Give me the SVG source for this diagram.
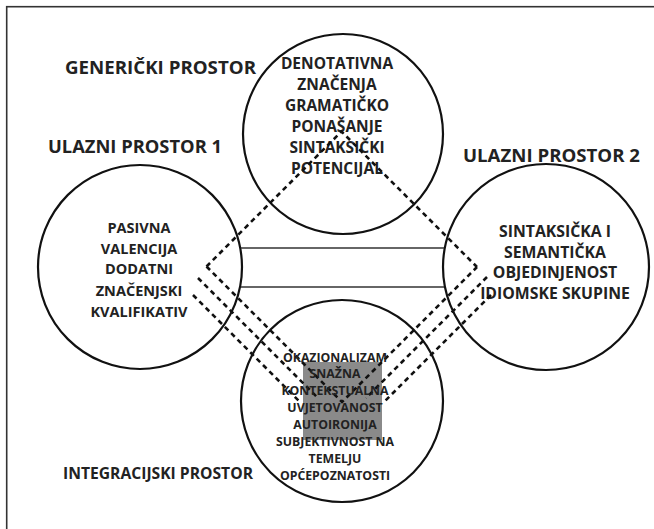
<svg xmlns="http://www.w3.org/2000/svg" width="654" height="529" viewBox="0 0 654 529">
<style>
.circ{fill:none;stroke:#111;stroke-width:2.2}
.hl{stroke:#333;stroke-width:1.6}
.dash{stroke:#111;stroke-width:2.6;stroke-dasharray:5 4;fill:none}
.lab{font-family:"Open Sans",sans-serif;font-weight:700;font-size:18px;fill:#222}
.t{font-family:"Open Sans",sans-serif;font-weight:700;font-size:15.5px;fill:#222;text-anchor:middle}
.tl{font-family:"Open Sans",sans-serif;font-weight:700;font-size:14.5px;fill:#222;text-anchor:middle}
.tr{font-family:"Open Sans",sans-serif;font-weight:700;font-size:15.8px;fill:#222;text-anchor:middle}
.s{font-family:"Open Sans",sans-serif;font-weight:700;font-size:12.3px;fill:#222;text-anchor:middle}
</style>
<rect x="6.7" y="6.7" width="700" height="600" fill="#fff" stroke="#333" stroke-width="1.6"/>
<g id="generic">
<circle class="circ" cx="343" cy="134" r="100"/>
<text class="lab" x="65" y="73.5" textLength="191" lengthAdjust="spacingAndGlyphs">GENERIČKI PROSTOR</text>
<text class="t"><tspan x="337" y="68.5">DENOTATIVNA</tspan><tspan x="337" y="89.5">ZNAČENJA</tspan><tspan x="337" y="110.5">GRAMATIČKO</tspan><tspan x="337" y="132">PONAŠANJE</tspan><tspan x="337" y="153">SINTAKSIČKI</tspan><tspan x="337" y="174">POTENCIJAL</tspan></text>
</g>
<g id="input1">
<circle class="circ" cx="140" cy="267" r="102"/>
<text class="lab" x="48" y="152.5" textLength="174" lengthAdjust="spacingAndGlyphs">ULAZNI PROSTOR 1</text>
<text class="tl"><tspan x="139" y="233">PASIVNA</tspan><tspan x="139" y="254">VALENCIJA</tspan><tspan x="139" y="274">DODATNI</tspan><tspan x="139" y="296">ZNAČENJSKI</tspan><tspan x="139" y="317">KVALIFIKATIV</tspan></text>
</g>
<g id="input2">
<circle class="circ" cx="546" cy="267" r="103"/>
<text class="lab" x="463" y="161.5" textLength="177" lengthAdjust="spacingAndGlyphs">ULAZNI PROSTOR 2</text>
<text class="tr"><tspan x="555" y="236.5">SINTAKSIČKA I</tspan><tspan x="555" y="257.5">SEMANTIČKA</tspan><tspan x="555" y="277.5">OBJEDINJENOST</tspan><tspan x="555" y="298.5">IDIOMSKE SKUPINE</tspan></text>
</g>
<g id="blend">
<circle class="circ" cx="342" cy="401" r="101"/>
<rect x="303" y="362" width="79" height="78" fill="#8a8a8a"/>
<text class="lab" x="63" y="479" style="font-size:16px" textLength="190" lengthAdjust="spacingAndGlyphs">INTEGRACIJSKI PROSTOR</text>
</g>
<g id="connectors">
<line class="hl" x1="241" y1="248" x2="444" y2="248"/>
<line class="hl" x1="241" y1="287" x2="444" y2="287"/>
<polyline class="dash" points="206.5,266.5 341.5,131.5 477,267"/>
<polyline class="dash" points="206.5,266.5 342,402 477,267"/>
<line class="dash" x1="198" y1="278" x2="318" y2="398"/>
<line class="dash" x1="193" y1="295" x2="300" y2="402"/>
<line class="dash" x1="487" y1="277" x2="366" y2="398"/>
<line class="dash" x1="491" y1="295" x2="384" y2="402"/>
</g>
<g id="blend-text">
<text class="s"><tspan x="335" y="361.5">OKAZIONALIZAM</tspan><tspan x="335" y="378.4">SNAŽNA</tspan><tspan x="335" y="395.3">KONTEKSTUALNA</tspan><tspan x="335" y="412.2">UVJETOVANOST</tspan><tspan x="335" y="429">AUTOIRONIJA</tspan><tspan x="335" y="445.9">SUBJEKTIVNOST NA</tspan><tspan x="335" y="462.8">TEMELJU</tspan><tspan x="335" y="479.6">OPĆEPOZNATOSTI</tspan></text>
</g>
</svg>
